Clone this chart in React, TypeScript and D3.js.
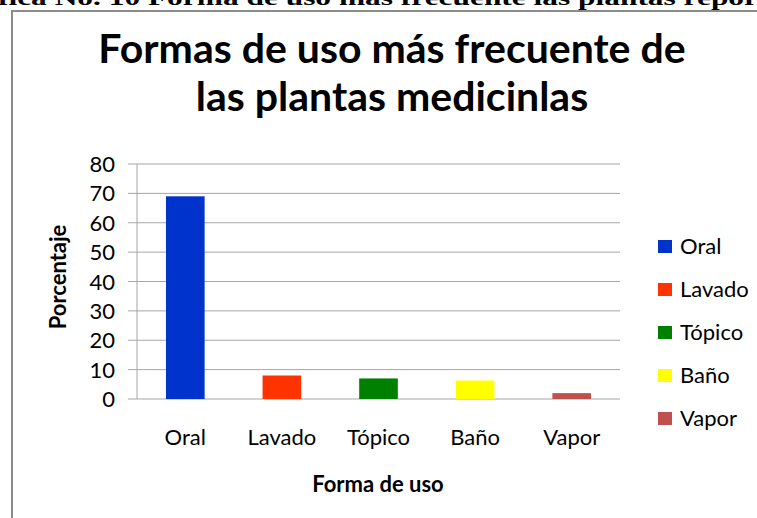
import React from "react";
import * as d3 from "d3";

const categories = ["Oral", "Lavado", "Tópico", "Baño", "Vapor"];
const values = [69, 8, 7, 6.3, 2];
const colors = ["#0033CC", "#FF3300", "#008000", "#FFFF00", "#C0504D"];
const yTicks = [0, 10, 20, 30, 40, 50, 60, 70, 80];
const titleLines = ["Formas de uso más frecuente de", "las plantas medicinlas"];
const xTitle = "Forma de uso";
const yTitle = "Porcentaje";
const caption = "fica No. 10 Forma de uso más frecuente las plantas repor";

const W = 757;
const H = 518;
const FONT = "Lato, 'Open Sans', sans-serif";

export default function App() {
  const left = 137, right = 620, top = 164, bottom = 399;
  const x = d3.scaleBand<string>().domain(categories).range([left, right]).paddingInner(0.6).paddingOuter(0.3);
  const y = d3.scaleLinear().domain([0, 80]).range([bottom, top]);

  return (
    <svg width={W} height={H} style={{ position: "absolute", left: 0, top: 0, background: "#fff" }}>
      <rect x={0} y={0} width={W} height={H} fill="#fff" />
      <text x={-2} y={5} fontFamily="'Liberation Serif', serif" fontWeight="bold" fontSize={22} fill="#000" textLength={760} lengthAdjust="spacingAndGlyphs">{caption}</text>
      <line x1={12} y1={11} x2={W + 5} y2={11} stroke="#8c8c8c" strokeWidth={2} />
      <line x1={12} y1={10} x2={12} y2={H + 5} stroke="#8c8c8c" strokeWidth={2} />

      {titleLines.map((t, i) => (
        <text key={t} x={392} y={63 + i * 48} textAnchor="middle" fontFamily={FONT} fontWeight="bold" fontSize={41} fill="#000">{t}</text>
      ))}

      {yTicks.map((t) => (
        <g key={t}>
          <line x1={128} x2={right} y1={y(t)} y2={y(t)} stroke="#a6a6a6" strokeWidth={1} />
          <text x={115} y={y(t) + 8} textAnchor="end" fontFamily={FONT} fontSize={22} fill="#000">{t}</text>
        </g>
      ))}
      <line x1={left} x2={left} y1={top} y2={bottom} stroke="#a6a6a6" strokeWidth={1} />

      {categories.map((c, i) => (
        <g key={c}>
          <rect x={x(c)!} y={y(values[i])} width={x.bandwidth()} height={bottom - y(values[i])} fill={colors[i]} />
          <text x={x(c)! + x.bandwidth() / 2} y={445} textAnchor="middle" fontFamily={FONT} fontSize={22} fill="#000">{c}</text>
        </g>
      ))}

      <text x={378} y={492} textAnchor="middle" fontFamily={FONT} fontWeight="bold" fontSize={22} fill="#000">{xTitle}</text>
      <text transform={`translate(66,277) rotate(-90)`} textAnchor="middle" fontFamily={FONT} fontWeight="bold" fontSize={22} fill="#000">{yTitle}</text>

      {categories.map((c, i) => (
        <g key={"l" + c} transform={`translate(658,${246.5 + i * 43})`}>
          <rect x={0} y={-6.5} width={14} height={13} fill={colors[i]} />
          <text x={22} y={7.5} fontFamily={FONT} fontSize={22} fill="#000">{c}</text>
        </g>
      ))}
    </svg>
  );
}
